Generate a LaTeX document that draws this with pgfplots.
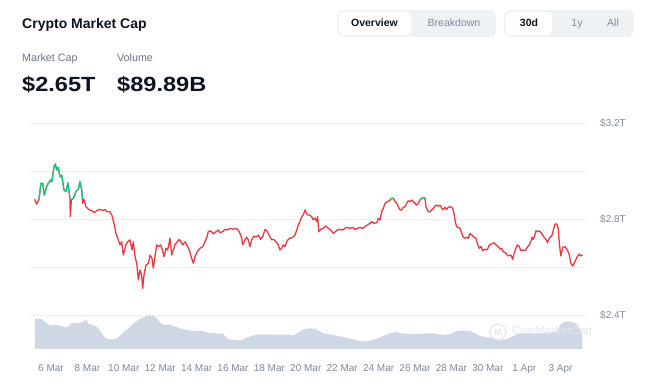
\documentclass[border=0pt]{standalone}
\usepackage{fontspec}
\setmainfont{Liberation Sans}
\newfontfamily\widefont[FakeStretch=1.15]{Liberation Sans}
\usepackage{pgfplots}
\pgfplotsset{compat=1.18}
\usepackage{pgfplotstable}
\definecolor{cmcred}{HTML}{EA3943}
\definecolor{cmcgreen}{HTML}{16C784}
\definecolor{volfill}{HTML}{CFD6E4}
\definecolor{txtgray}{HTML}{808A9D}
\definecolor{labgray}{HTML}{6B7489}
\definecolor{darktxt}{HTML}{0D1421}
\definecolor{btnbg}{HTML}{EFF2F5}
\definecolor{gridc}{HTML}{E3E6EB}
\definecolor{wmark}{HTML}{E4E8EF}

% price in trillions USD, x = days after 5 Mar 00:00
\pgfplotstableread{
day price
0.10 2.882
0.21 2.862
0.34 2.882
0.45 2.949
0.54 2.949
0.63 2.900
0.76 2.935
0.85 2.949
0.98 2.962
1.05 2.955
1.16 3.018
1.24 3.029
1.31 3.004
1.40 3.015
1.49 2.976
1.59 2.983
1.71 2.921
1.82 2.914
1.93 2.951
2.04 2.886
2.06 2.810
2.12 2.879
2.23 2.886
2.37 2.914
2.50 2.924
2.59 2.955
2.69 2.921
2.74 2.865
2.81 2.882
2.92 2.851
3.10 2.838
3.24 2.835
3.38 2.826
3.51 2.835
3.69 2.840
3.84 2.835
3.97 2.840
4.09 2.830
4.24 2.830
4.34 2.817
4.46 2.782
4.57 2.740
4.70 2.713
4.79 2.692
4.88 2.705
4.97 2.650
5.12 2.692
5.21 2.705
5.34 2.713
5.45 2.671
5.52 2.705
5.62 2.643
5.71 2.615
5.80 2.546
5.89 2.588
5.98 2.567
6.04 2.511
6.11 2.567
6.22 2.608
6.35 2.615
6.44 2.650
6.55 2.636
6.62 2.595
6.71 2.643
6.81 2.692
6.90 2.685
7.03 2.692
7.12 2.671
7.21 2.643
7.32 2.678
7.41 2.671
7.54 2.720
7.63 2.650
7.72 2.671
7.81 2.692
7.94 2.705
8.05 2.715
8.13 2.705
8.24 2.692
8.36 2.705
8.46 2.692
8.60 2.671
8.73 2.636
8.82 2.615
8.91 2.643
9.04 2.664
9.19 2.678
9.34 2.685
9.46 2.705
9.55 2.720
9.64 2.747
9.77 2.751
9.92 2.738
10.07 2.747
10.19 2.754
10.29 2.743
10.43 2.747
10.56 2.757
10.69 2.754
10.84 2.761
10.98 2.757
11.16 2.761
11.29 2.754
11.38 2.740
11.48 2.720
11.53 2.692
11.66 2.713
11.75 2.724
11.84 2.713
11.93 2.685
12.03 2.713
12.15 2.729
12.26 2.724
12.39 2.733
12.52 2.715
12.63 2.726
12.76 2.757
12.89 2.747
13.00 2.729
13.13 2.713
13.25 2.715
13.36 2.705
13.49 2.692
13.58 2.671
13.68 2.678
13.76 2.692
13.86 2.685
13.95 2.705
14.04 2.715
14.13 2.720
14.28 2.724
14.41 2.733
14.50 2.754
14.59 2.775
14.68 2.789
14.78 2.810
14.86 2.817
14.96 2.838
15.01 2.830
15.08 2.817
15.19 2.817
15.32 2.810
15.41 2.796
15.51 2.803
15.60 2.789
15.65 2.810
15.71 2.747
15.82 2.757
15.96 2.761
16.11 2.771
16.24 2.761
16.37 2.754
16.51 2.740
16.62 2.747
16.73 2.754
16.88 2.757
17.03 2.754
17.15 2.761
17.28 2.765
17.43 2.761
17.58 2.765
17.70 2.757
17.83 2.761
17.98 2.765
18.13 2.761
18.25 2.768
18.38 2.775
18.53 2.782
18.62 2.789
18.75 2.782
18.90 2.785
18.98 2.803
19.08 2.796
19.17 2.830
19.26 2.845
19.35 2.865
19.48 2.872
19.59 2.876
19.72 2.886
19.81 2.886
19.90 2.872
20.00 2.865
20.08 2.851
20.18 2.838
20.27 2.838
20.36 2.849
20.45 2.851
20.54 2.865
20.63 2.876
20.73 2.872
20.82 2.879
20.91 2.872
21.00 2.865
21.09 2.858
21.18 2.865
21.27 2.879
21.37 2.886
21.46 2.890
21.55 2.886
21.60 2.851
21.73 2.830
21.82 2.830
21.92 2.838
22.01 2.845
22.15 2.858
22.28 2.854
22.37 2.858
22.47 2.845
22.56 2.838
22.65 2.849
22.74 2.840
22.83 2.849
22.96 2.851
23.07 2.845
23.14 2.824
23.21 2.789
23.29 2.768
23.38 2.765
23.47 2.761
23.57 2.740
23.65 2.724
23.75 2.720
23.84 2.724
23.93 2.720
24.02 2.740
24.13 2.733
24.24 2.724
24.35 2.720
24.42 2.699
24.53 2.678
24.63 2.685
24.72 2.668
24.85 2.674
24.97 2.671
25.08 2.692
25.21 2.696
25.34 2.701
25.45 2.692
25.58 2.685
25.67 2.674
25.76 2.678
25.85 2.664
26.00 2.657
26.13 2.646
26.26 2.650
26.37 2.632
26.44 2.657
26.55 2.678
26.62 2.692
26.73 2.685
26.81 2.668
26.92 2.671
27.04 2.668
27.17 2.682
27.28 2.692
27.36 2.705
27.43 2.724
27.50 2.715
27.59 2.733
27.65 2.751
27.72 2.747
27.83 2.751
27.96 2.740
28.09 2.724
28.20 2.715
28.27 2.701
28.38 2.720
28.51 2.729
28.60 2.754
28.69 2.779
28.79 2.779
28.87 2.761
28.93 2.699
29.01 2.646
29.12 2.682
29.24 2.685
29.37 2.671
29.48 2.650
29.56 2.615
29.67 2.604
29.79 2.622
29.89 2.640
30.03 2.654
30.10 2.646
30.21 2.650
}\pricedata

% volume in billions USD
\pgfplotstableread{
day vol
0.12 150
0.43 150
0.58 142
0.76 128
0.98 118
1.31 120
1.59 115
1.77 108
1.95 112
2.14 132
2.41 128
2.69 132
2.87 142
2.96 145
3.05 125
3.32 120
3.60 103
3.79 78
3.97 57
4.15 48
4.52 48
4.70 58
4.97 82
5.25 103
5.52 125
5.80 145
6.07 158
6.35 167
6.62 167
6.81 153
7.03 128
7.26 120
7.45 123
7.72 115
8.09 103
8.46 95
8.82 90
9.28 90
9.64 82
10.10 78
10.47 75
10.74 48
11.02 45
11.38 42
11.66 53
11.93 62
12.30 72
12.66 73
13.21 72
13.76 72
14.31 68
14.59 82
14.86 98
15.14 103
15.51 102
15.78 87
16.05 75
16.42 72
16.79 64
17.15 58
17.61 48
18.07 37
18.62 42
19.08 58
19.53 75
19.90 85
20.27 78
20.73 75
21.18 75
21.64 78
22.01 78
22.37 73
22.74 70
23.02 78
23.29 90
23.65 92
24.02 90
24.30 78
24.57 65
24.94 58
25.30 57
25.58 48
25.85 45
26.13 53
26.40 65
26.77 78
27.32 78
27.87 78
28.42 82
28.79 87
28.97 120
29.15 132
29.42 137
29.70 132
29.89 125
30.03 103
30.10 92
30.20 78
}\voldata

\pgfplotsset{cmcx/.style={scale only axis, width=558pt, xmin=-0.209, xmax=30.45, anchor=south west}}

\begin{document}
\begin{tikzpicture}
\useasboundingbox (0pt,0pt) rectangle (649pt,387pt);
\fill[white] (0pt,0pt) rectangle (649pt,387pt);

% header
\node[anchor=base west, inner sep=0pt, text=darktxt] at (22pt,358.5pt) {\fontsize{14}{16}\selectfont\bfseries Crypto Market Cap};
\node[anchor=base west, inner sep=0pt, text=labgray] at (22pt,325.3pt) {\fontsize{10.7}{12}\selectfont Market Cap};
\node[anchor=base west, inner sep=0pt, text=labgray] at (117pt,325.3pt) {\fontsize{10.7}{12}\selectfont Volume};
\node[anchor=base west, inner sep=0pt, text=darktxt] at (22pt,295.3pt) {\fontsize{20.5}{24}\selectfont\widefont\bfseries \$2.65T};
\node[anchor=base west, inner sep=0pt, text=darktxt] at (117pt,295.3pt) {\fontsize{20.5}{24}\selectfont\widefont\bfseries \$89.89B};

% buttons
\fill[btnbg, rounded corners=7pt] (337pt,350pt) rectangle (496pt,377pt);
\fill[white, rounded corners=6pt] (338.7pt,351.7pt) rectangle (411pt,375.3pt);
\node[anchor=base, inner sep=0pt, text=darktxt] at (374.5pt,360pt) {\fontsize{10.5}{12}\selectfont\bfseries Overview};
\node[anchor=base, inner sep=0pt, text=txtgray] at (454pt,360pt) {\fontsize{10.5}{12}\selectfont Breakdown};
\fill[btnbg, rounded corners=7pt] (504pt,350pt) rectangle (634pt,377pt);
\fill[white, rounded corners=6pt] (505.7pt,351.7pt) rectangle (552pt,375.3pt);
\node[anchor=base, inner sep=0pt, text=darktxt] at (529pt,360pt) {\fontsize{10.5}{12}\selectfont\bfseries 30d};
\node[anchor=base, inner sep=0pt, text=txtgray] at (577pt,360pt) {\fontsize{10.5}{12}\selectfont 1y};
\node[anchor=base, inner sep=0pt, text=txtgray] at (613pt,360pt) {\fontsize{10.5}{12}\selectfont All};

% main price axis
\begin{axis}[cmcx, at={(29pt,38pt)}, height=226pt, ymin=2.2583, ymax=3.2,
  axis line style={draw=none}, major tick length=0pt,
  ytick={2.4,2.6,2.8,3.0,3.2}, yticklabels={\$2.4T,,\$2.8T,,\$3.2T},
  yticklabel pos=right, ymajorgrids,
  grid style={gridc, dash pattern=on 1.5pt off 2.5pt, line width=0.7pt},
  xtick={1,3,...,29},
  xticklabels={6 Mar,8 Mar,10 Mar,12 Mar,14 Mar,16 Mar,18 Mar,20 Mar,22 Mar,24 Mar,26 Mar,28 Mar,30 Mar,1 Apr,3 Apr},
  tick label style={font=\fontsize{10}{12}\selectfont, text=txtgray},
  yticklabel style={anchor=west, inner sep=0pt, xshift=13pt},
  xticklabel style={anchor=base, inner sep=0pt, yshift=-23pt},
  /pgf/number format/assume math mode=true]
\addplot[cmcred, line width=1.3pt, line join=round] table[x=day,y=price]{\pricedata};
\end{axis}

% green part above the opening value
\begin{axis}[cmcx, at={(29pt,188.16pt)}, height=75.84pt, ymin=2.884, ymax=3.2, hide axis]
\addplot[cmcgreen, line width=1.3pt, line join=round] table[x=day,y=price]{\pricedata};
\end{axis}

% volume area
\begin{axis}[cmcx, at={(29pt,38pt)}, height=50pt, ymin=0, ymax=250, hide axis]
\addplot[fill=volfill, draw=none] table[x=day,y=vol]{\voldata} \closedcycle;
\end{axis}

% watermark
\draw[wmark, line width=1.3pt] (498pt,55pt) circle (8pt);
\node[anchor=center, inner sep=0pt, text=wmark] at (498pt,55pt) {\fontsize{9}{10}\selectfont\bfseries M};
\node[anchor=west, inner sep=0pt, text=wmark] at (512pt,55pt) {\fontsize{11.5}{14}\selectfont CoinMarketCap};
\end{tikzpicture}
\end{document}
